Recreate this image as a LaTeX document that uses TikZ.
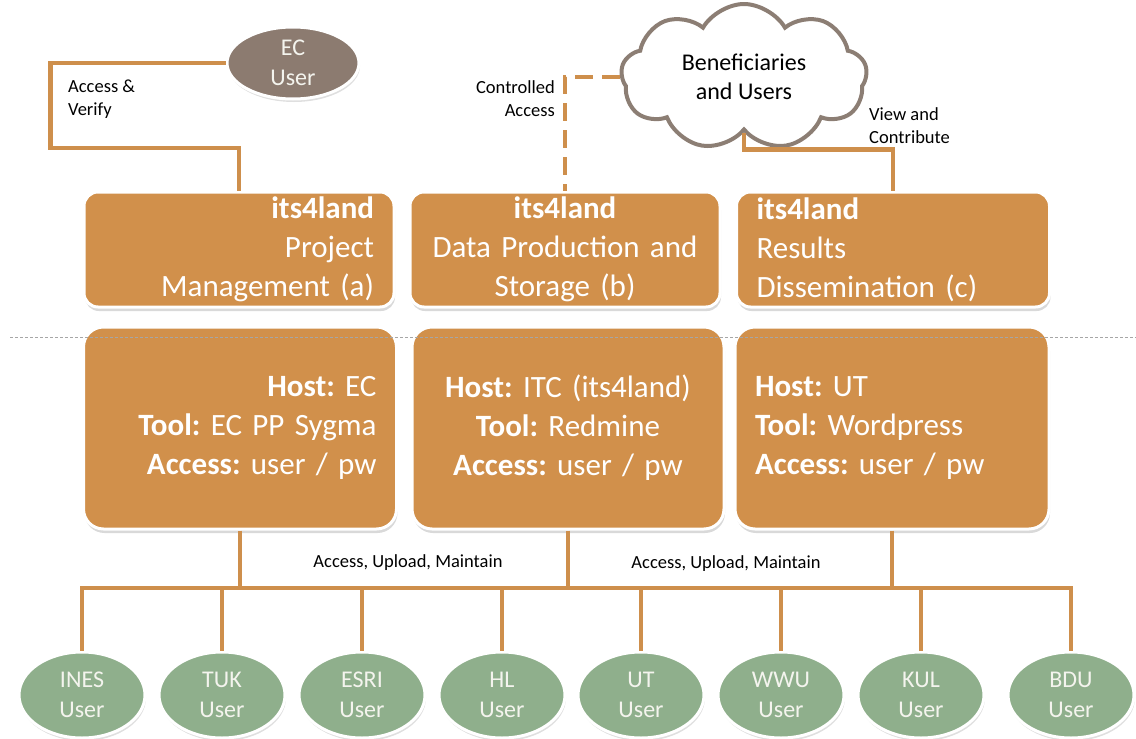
\documentclass[tikz,border=0pt]{standalone}
\usepackage{fontspec}
\setmainfont{Carlito}
\frenchspacing
\usepackage{tikz}
\usetikzlibrary{shapes.geometric,shapes.symbols,shadows}
\usepackage{xcolor}
\definecolor{boxorange}{RGB}{209,144,75}
\definecolor{linkorange}{RGB}{206,143,76}
\definecolor{usergreen}{RGB}{143,175,140}
\definecolor{ecbrown}{RGB}{140,123,112}
\definecolor{cloudgrey}{RGB}{140,126,116}
\definecolor{usertext}{RGB}{244,244,238}

\tikzset{
  portal/.style={rectangle, rounded corners=14pt, fill=boxorange, draw=white, line width=3pt,
    drop shadow={shadow xshift=1pt, shadow yshift=-4pt, opacity=0.3},
    text=white, inner xsep=20pt, inner ysep=0pt, font=\fontsize{31}{39}\selectfont},
  toprow/.style={portal, minimum height=115pt},
  hostbox/.style={portal, rounded corners=20pt, minimum height=202pt},
  partner/.style={ellipse, fill=usergreen, draw=white, line width=3pt, minimum width=126pt,
    minimum height=86pt, inner sep=0pt, text=usertext, align=center,
    drop shadow={shadow xshift=1pt, shadow yshift=-3pt, opacity=0.25},
    font=\fontsize{24}{30}\selectfont},
  link/.style={linkorange, line width=4.5pt},
  lbl/.style={inner sep=0pt, font=\fontsize{18.5}{23}\selectfont}
}

\begin{document}
\begin{tikzpicture}[x=1pt,y=-1pt]
  \useasboundingbox (0,0) rectangle (1136,739);

  % Portals
  \node[toprow, text width=270pt, align=right] (pma) at (239,249.5) {\textbf{its4land}\\Project\\Management (a)};
  \node[toprow, text width=270pt, align=center] (dpb) at (565,249.5) {\textbf{its4land}\\Data Production and\\Storage (b)};
  \node[toprow, text width=273pt, align=left] (rdc) at (893,249.5) {\textbf{its4land}\\Results\\Dissemination (c)};

  % Hosting
  \node[hostbox, text width=273pt, align=right] (ha) at (240,428) {\textbf{Host:} EC\\\textbf{Tool:} EC PP Sygma\\\textbf{Access:} user / pw};
  \node[hostbox, text width=272pt, align=center] (hb) at (568,428) {\textbf{Host:} ITC (its4land)\\\textbf{Tool:} Redmine\\\textbf{Access:} user / pw};
  \node[hostbox, text width=274pt, align=left] (hc) at (892,428) {\textbf{Host:} UT\\\textbf{Tool:} Wordpress\\\textbf{Access:} user / pw};

  \draw[gray!70, line width=0.7pt, dash pattern=on 3pt off 2pt] (10,337) -- (1136,337);

  % Outside users
  \node[partner, fill=ecbrown, minimum width=132pt, minimum height=72pt] (ec) at (293,63) {EC\\User};
  \node[cloud, cloud puffs=9, cloud puff arc=120, aspect=1.7, draw=cloudgrey, line width=4pt, fill=white,
    minimum width=246pt, minimum height=146pt, inner sep=0pt, align=center,
    font=\fontsize{24}{29}\selectfont] (ben) at (744,77) {Beneficiaries\\and Users};

  \draw[link] (ec.west) -- ++(-175,0) -- ++(0,85) -| (pma.north);
  \draw[link, dash pattern=on 18pt off 9pt] (ben.west) -| (dpb.north);
  \draw[link] (ben.south) -- ++(0,17) -| (rdc.north);

  \node[lbl, anchor=west, align=left] (avlbl) at (68,99) {Access \&\\Verify};
  \node[lbl, anchor=east, align=right] (calbl) at (555,99) {Controlled\\Access};
  \node[lbl, anchor=west, align=left] (vclbl) at (869,125.5) {View and\\Contribute};

  % Partner users
  \foreach \name/\px/\org in {ines/82/INES, tuk/222/TUK, esri/362/ESRI, hl/502/HL,
      ut/641/UT, wwu/781/WWU, kul/921/KUL, bdu/1071/BDU}
    \node[partner] (\name) at (\px,695) {\org\\User};

  \coordinate (bus) at (0,588);
  \draw[link] (ines.north) -- (ines.north |- bus) -- (bdu.north |- bus) -- (bdu.north);
  \foreach \name in {tuk,esri,hl,ut,wwu,kul}
    \draw[link] (\name.north) -- (\name.north |- bus);
  \foreach \name in {ha,hb,hc}
    \draw[link] (\name.south) -- (\name.south |- bus);

  \node[lbl] (aum1) at (408,563) {Access, Upload, Maintain};
  \node[lbl] (aum2) at (726,564) {Access, Upload, Maintain};
\end{tikzpicture}
\end{document}
